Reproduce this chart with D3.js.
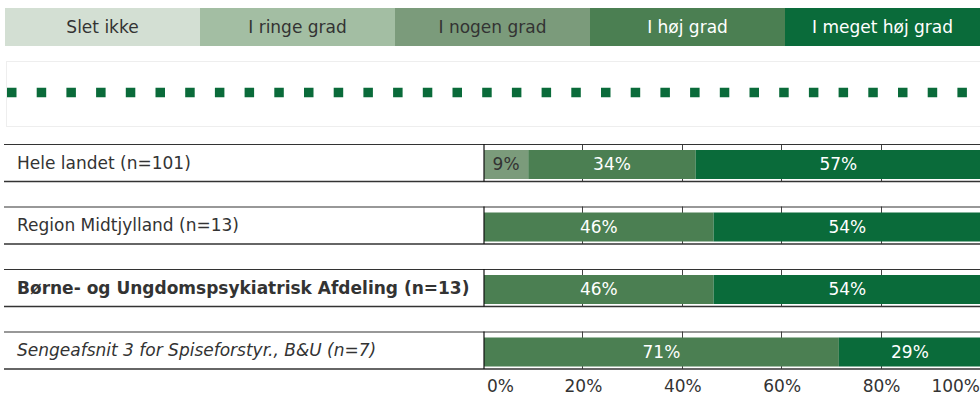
<!DOCTYPE html>
<html>
<head>
<meta charset="utf-8">
<script src="https://cdn.jsdelivr.net/npm/d3@7"></script>
<style>
  body { margin: 0; background: #fff; }
  svg { display: block; font-family: "DejaVu Sans", Verdana, sans-serif; }
</style>
</head>
<body>
<svg id="chart" width="980" height="400"></svg>
<script>
// answer categories (legend order) and their colours
var categories = ['Slet ikke', 'I ringe grad', 'I nogen grad', 'I høj grad', 'I meget høj grad'];
var colors = ['#d3dfd3', '#a3bea3', '#7b9b7b', '#4b7f52', '#0a6b3a'];
var textColors = ['#333', '#333', '#333', '#fff', '#fff'];

// rows
var groups = ['Hele landet (n=101)', 'Region Midtjylland (n=13)',
  'Børne- og Ungdomspsykiatrisk Afdeling (n=13)', 'Sengeafsnit 3 for Spiseforstyr., B&U (n=7)'];
var groupStyles = ['normal', 'normal', 'bold', 'italic'];

// percentages per category, one value per row
var sletIkke = [0, 0, 0, 0];
var iRingeGrad = [0, 0, 0, 0];
var iNogenGrad = [8.9, 0, 0, 0];
var iHoejGrad = [33.7, 46.2, 46.2, 71.4];
var iMegetHoejGrad = [57.4, 53.8, 53.8, 28.6];
var series = [sletIkke, iRingeGrad, iNogenGrad, iHoejGrad, iMegetHoejGrad];

var ticks = [0, 20, 40, 60, 80, 100];

var svg = d3.select('#chart');
var fontSize = 17;

// legend strip
var lx = d3.scaleBand().domain(categories).range([5, 980]);
var legend = svg.append('g');
legend.selectAll('rect').data(categories).enter().append('rect')
  .attr('x', function (d) { return lx(d); })
  .attr('y', 8)
  .attr('width', lx.bandwidth())
  .attr('height', 38)
  .attr('fill', function (d, i) { return colors[i]; });
legend.selectAll('text').data(categories).enter().append('text')
  .attr('x', function (d) { return lx(d) + lx.bandwidth() / 2; })
  .attr('y', 27)
  .attr('dy', '0.35em')
  .attr('text-anchor', 'middle')
  .attr('font-size', fontSize)
  .attr('fill', function (d, i) { return textColors[i]; })
  .text(function (d) { return d; });

// dotted panel
svg.append('rect')
  .attr('x', 6.5).attr('y', 61.5).attr('width', 980).attr('height', 65)
  .attr('fill', 'none').attr('stroke', '#eee');
svg.append('line')
  .attr('x1', 7).attr('x2', 980).attr('y1', 92.5).attr('y2', 92.5)
  .attr('stroke', '#0a6b3a').attr('stroke-width', 9.5)
  .attr('stroke-dasharray', '9.5,20.2');

// bars: band height 37.5 with pitch 62.5
var x = d3.scaleLinear().domain([0, 100]).range([484, 981]);
var y = d3.scaleBand().domain(groups)
  .range([144, 144 + 62.5 * groups.length - 25])
  .paddingInner(25 / 62.5).paddingOuter(0);

var rows = svg.append('g').selectAll('g').data(groups).enter().append('g')
  .attr('transform', function (d) { return 'translate(0,' + y(d) + ')'; });

var bh = y.bandwidth();

// vertical grid lines inside each band
rows.each(function () {
  d3.select(this).selectAll('line.grid').data(ticks.slice(1)).enter().append('line')
    .attr('class', 'grid')
    .attr('x1', function (t) { return Math.round(x(t)) - 0.5; })
    .attr('x2', function (t) { return Math.round(x(t)) - 0.5; })
    .attr('y1', 0).attr('y2', bh)
    .attr('stroke', '#444').attr('stroke-width', 1);
});

// stacked segments
rows.each(function (g, gi) {
  var acc = 0;
  var segs = [];
  series.forEach(function (s, si) {
    segs.push({ x0: acc, v: s[gi], ci: si });
    acc += s[gi];
  });
  segs = segs.filter(function (s) { return s.v > 0; });
  var sel = d3.select(this);
  sel.selectAll('rect.seg').data(segs).enter().append('rect')
    .attr('class', 'seg')
    .attr('x', function (s) { return x(s.x0); })
    .attr('y', 6)
    .attr('width', function (s) { return x(s.x0 + s.v) - x(s.x0); })
    .attr('height', 29)
    .attr('fill', function (s) { return colors[s.ci]; });
  sel.selectAll('text.val').data(segs).enter().append('text')
    .attr('class', 'val')
    .attr('x', function (s) { return x(s.x0 + s.v / 2); })
    .attr('y', 20.5)
    .attr('dy', '0.35em')
    .attr('text-anchor', 'middle')
    .attr('font-size', fontSize)
    .attr('fill', function (s) { return s.ci < 3 ? '#333' : '#fff'; })
    .text(function (s) { return Math.round(s.v) + '%'; });
});

// row borders and labels
rows.append('line')
  .attr('x1', 4).attr('x2', 980).attr('y1', 0.5).attr('y2', 0.5)
  .attr('stroke', '#333').attr('stroke-width', 1.2);
rows.append('line')
  .attr('x1', 4).attr('x2', 980).attr('y1', bh).attr('y2', bh)
  .attr('stroke', '#333').attr('stroke-width', 1.5);
rows.append('line')
  .attr('x1', 484).attr('x2', 484).attr('y1', 0).attr('y2', bh)
  .attr('stroke', '#111').attr('stroke-width', 1.2);
rows.append('text')
  .attr('x', 17)
  .attr('y', bh / 2)
  .attr('dy', '0.35em')
  .attr('font-size', fontSize)
  .attr('fill', '#333')
  .attr('font-weight', function (d, i) { return groupStyles[i] === 'bold' ? 'bold' : 'normal'; })
  .attr('font-style', function (d, i) { return groupStyles[i] === 'italic' ? 'italic' : 'normal'; })
  .text(function (d) { return d; });

// x axis labels
svg.append('g').selectAll('text').data(ticks).enter().append('text')
  .attr('x', function (t) { return t === 0 ? x(t) + 3 : t === 100 ? 980 : x(t); })
  .attr('y', 386)
  .attr('dy', '0.35em')
  .attr('text-anchor', function (t) { return t === 0 ? 'start' : t === 100 ? 'end' : 'middle'; })
  .attr('font-size', fontSize)
  .attr('fill', '#333')
  .text(function (t) { return t + '%'; });
</script>
</body>
</html>
